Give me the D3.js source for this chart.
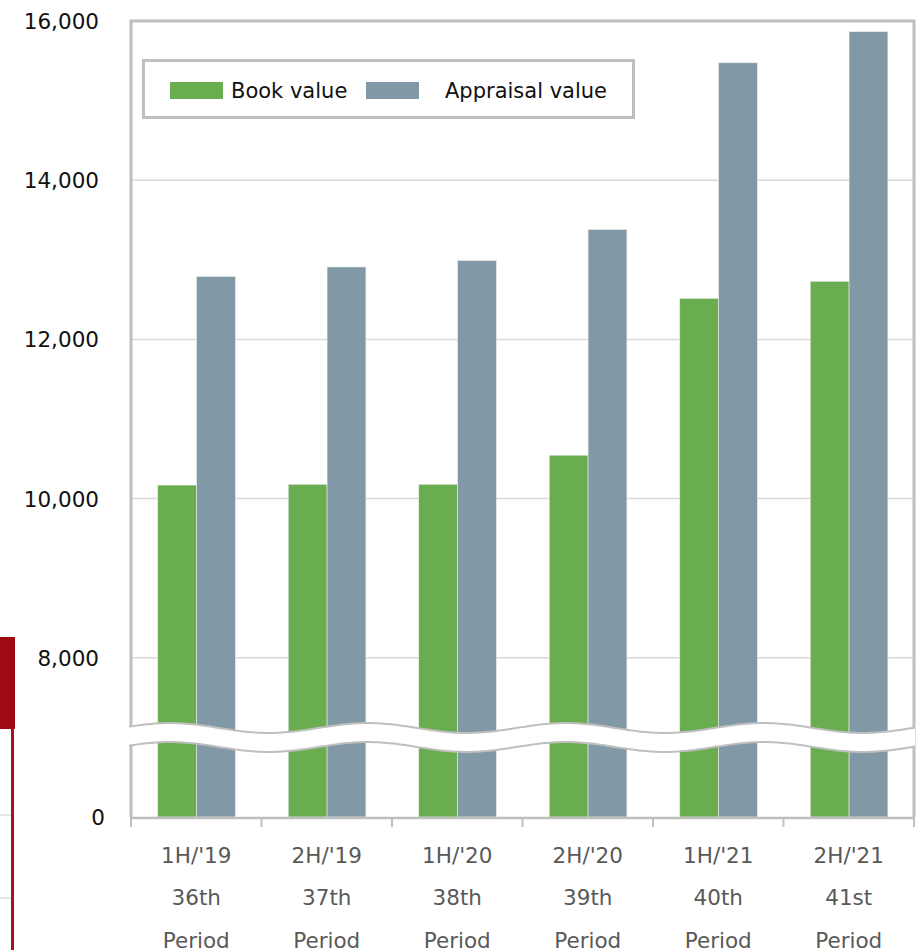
<!DOCTYPE html>
<html>
<head>
<meta charset="utf-8">
<script src="https://cdn.jsdelivr.net/npm/d3@7"></script>
<style>
  body { margin: 0; background: #ffffff; }
  svg text { font-family: "DejaVu Sans", Verdana, sans-serif; }
</style>
</head>
<body>
<svg id="chart" width="917" height="950"></svg>
<script>
// data
const periods = ["1H/'19", "2H/'19", "1H/'20", "2H/'20", "1H/'21", "2H/'21"];
const periodNo = ["36th", "37th", "38th", "39th", "40th", "41st"];
const seriesNames = ["Book value", "Appraisal value"];
const bookValue = [10170, 10180, 10180, 10545, 12515, 12730];
const appraisalValue = [12790, 12910, 12990, 13380, 15475, 15865];
const yTicks = [8000, 10000, 12000, 14000, 16000];

const COLORS = ["#6aad50", "#8199a6"];
const BORDER = "#bfbfbf";
const GRID = "#d9d9d9";

const plot = {left: 131, right: 914, top: 21, bottom: 817};
const Y_FLOOR = 6000;   // axis is broken: the "0" sits where 6,000 would be

let svg = d3.select("#chart");

let x = d3.scaleBand()
    .domain(periods)
    .range([plot.left, plot.right])
    .padding(0);

let xInner = d3.scaleBand()
    .domain(seriesNames)
    .range([x.bandwidth()*0.205, x.bandwidth()*0.8]);

let y = d3.scaleLinear()
    .domain([Y_FLOOR, 16000])
    .range([plot.bottom, plot.top]);

// gridlines
svg.append("g")
    .selectAll("line")
    .data(yTicks.slice(0, -1))
    .join("line")
    .attr("x1", plot.left)
    .attr("x2", plot.right)
    .attr("y1", d => y(d))
    .attr("y2", d => y(d))
    .style("stroke", GRID)
    .style("stroke-width", 1.5);

// bars
let rows = periods.map((p, i) => ({period: p, values: [bookValue[i], appraisalValue[i]]}));

svg.append("g")
    .selectAll("g")
    .data(rows)
    .join("g")
    .attr("transform", d => `translate(${x(d.period)},0)`)
    .selectAll("rect")
    .data(d => d.values.map((v, j) => ({name: seriesNames[j], value: v, j: j})))
    .join("rect")
    .attr("x", d => xInner(d.name))
    .attr("y", d => y(d.value))
    .attr("width", xInner.bandwidth())
    .attr("height", d => plot.bottom - y(d.value))
    .style("fill", d => COLORS[d.j])
    .style("stroke", "#e8ece8")
    .style("stroke-width", 0.6);

// plot frame (top, left, right)
svg.append("path")
    .attr("d", `M${plot.left},${plot.bottom} V${plot.top} H${plot.right} V${plot.bottom}`)
    .style("fill", "none")
    .style("stroke", BORDER)
    .style("stroke-width", 3);

// x axis line + ticks
svg.append("line")
    .attr("x1", plot.left - 1)
    .attr("x2", plot.right + 1)
    .attr("y1", plot.bottom + 1)
    .attr("y2", plot.bottom + 1)
    .style("stroke", BORDER)
    .style("stroke-width", 2.5);

let boundaries = periods.map(p => x(p)).concat([plot.right]);
svg.append("g")
    .selectAll("line")
    .data(boundaries)
    .join("line")
    .attr("x1", d => d)
    .attr("x2", d => d)
    .attr("y1", plot.bottom)
    .attr("y2", plot.bottom + 10)
    .style("stroke", BORDER)
    .style("stroke-width", 2);

// axis break (wavy band)
const waveMid = 728, waveAmp = 5, wavePeriod = 198, waveGap = 19;
let xs = d3.range(plot.left - 2, plot.right + 4, 3);
let upper = xs.map(px => [px, waveMid - waveAmp*Math.cos(2*Math.PI*(px - 170)/wavePeriod)]);
let lower = upper.map(p => [p[0], p[1] + waveGap]);
let line = d3.line().curve(d3.curveBasis);

svg.append("path")
    .attr("d", line(upper) + "L" + lower.slice().reverse().map(p => p.join(",")).join("L") + "Z")
    .style("fill", "#ffffff");

svg.selectAll(".wave")
    .data([upper, lower])
    .join("path")
    .attr("class", "wave")
    .attr("d", d => line(d))
    .style("fill", "none")
    .style("stroke", BORDER)
    .style("stroke-width", 2);

// y tick labels
svg.append("g")
    .selectAll("text")
    .data([Y_FLOOR].concat(yTicks))
    .join("text")
    .attr("x", d => d === Y_FLOOR ? 105 : 99)
    .attr("y", d => y(d) + 8)
    .attr("text-anchor", "end")
    .style("font-size", "21.5px")
    .style("fill", "#111111")
    .text(d => d === Y_FLOOR ? "0" : d3.format(",")(d));

// x labels
let xl = svg.append("g")
    .selectAll("text")
    .data(periods)
    .join("text")
    .attr("text-anchor", "middle")
    .style("font-size", "21.5px")
    .style("fill", "#595959");

xl.append("tspan")
    .attr("x", d => x(d) + x.bandwidth()/2)
    .attr("y", 863)
    .text(d => d);
xl.append("tspan")
    .attr("x", d => x(d) + x.bandwidth()/2)
    .attr("y", 905)
    .text((d, i) => periodNo[i]);
xl.append("tspan")
    .attr("x", d => x(d) + x.bandwidth()/2)
    .attr("y", 948)
    .text("Period");

// legend
let legend = svg.append("g");
legend.append("rect")
    .attr("x", 143.5)
    .attr("y", 60.5)
    .attr("width", 490)
    .attr("height", 57)
    .style("fill", "#ffffff")
    .style("stroke", BORDER)
    .style("stroke-width", 3);

const legendPos = [{sx: 170, tx: 231}, {sx: 366, tx: 445}];
legend.selectAll("g")
    .data(seriesNames)
    .join("g")
    .each(function(d, i) {
        let g = d3.select(this);
        g.append("rect")
            .attr("x", legendPos[i].sx)
            .attr("y", 82)
            .attr("width", 53)
            .attr("height", 17)
            .style("fill", COLORS[i]);
        g.append("text")
            .attr("x", legendPos[i].tx)
            .attr("y", 98)
            .style("font-size", "21px")
            .style("fill", "#111111")
            .text(d);
    });

// cropped red panel on the left edge
let side = svg.append("g");
side.append("rect")
    .attr("x", 0).attr("y", 637)
    .attr("width", 15).attr("height", 92)
    .style("fill", "#9e0a12");
side.append("line")
    .attr("x1", 12.5).attr("x2", 12.5)
    .attr("y1", 729).attr("y2", 950)
    .style("stroke", "#a8101a")
    .style("stroke-width", 3);
side.selectAll(".sep")
    .data([815, 898])
    .join("line")
    .attr("class", "sep")
    .attr("x1", 0).attr("x2", 11)
    .attr("y1", d => d).attr("y2", d => d)
    .style("stroke", "#cccccc")
    .style("stroke-width", 1);
</script>
</body>
</html>
